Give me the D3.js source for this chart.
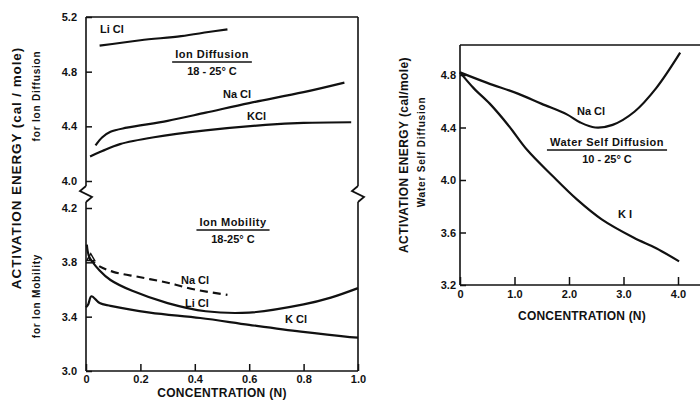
<!DOCTYPE html>
<html>
<head>
<meta charset="utf-8">
<script src="https://cdn.jsdelivr.net/npm/d3@7"></script>
<style>
  body { margin: 0; background: #fff; }
  text { font-family: "Liberation Sans", Arial, sans-serif; font-weight: bold; fill: #111; }
</style>
</head>
<body>
<div id="chart"></div>
<script>
// ion diffusion, 18-25 C  [concentration N, activation energy]
const diffLiCl = [[0.05, 4.99], [0.2, 5.03], [0.35, 5.06], [0.45, 5.09], [0.52, 5.11]];
const diffNaCl = [[0.035, 4.26], [0.06, 4.32], [0.09, 4.36], [0.15, 4.39], [0.3, 4.44], [0.44, 4.50], [0.6, 4.57], [0.8, 4.65], [0.95, 4.72]];
const diffKCl = [[0.015, 4.18], [0.06, 4.22], [0.125, 4.27], [0.25, 4.32], [0.44, 4.37], [0.66, 4.41], [0.8, 4.425], [0.975, 4.43]];

// ion mobility, 18-25 C
const mobNaCl = [[0.01, 3.83], [0.05, 3.77], [0.1, 3.73], [0.2, 3.69], [0.3, 3.65], [0.4, 3.60], [0.52, 3.56]];
const mobLiCl = [[0.003, 3.93], [0.012, 3.84], [0.05, 3.74], [0.09, 3.67], [0.17, 3.59], [0.3, 3.50], [0.44, 3.44], [0.6, 3.43], [0.8, 3.49], [0.9, 3.54], [1.0, 3.61]];
const mobKCl = [[0.0, 3.47], [0.008, 3.49], [0.02, 3.55], [0.05, 3.50], [0.09, 3.48], [0.235, 3.43], [0.42, 3.39], [0.6, 3.34], [0.79, 3.29], [0.97, 3.25], [1.0, 3.245]];
const mobMarker = [0.01, 3.83];

// water self diffusion, 10-25 C
const waterNaCl = [[0, 4.82], [0.5, 4.74], [1.05, 4.66], [1.5, 4.58], [1.96, 4.50], [2.2, 4.44], [2.48, 4.40], [2.8, 4.42], [3.2, 4.52], [3.6, 4.70], [4.04, 4.97]];
const waterKI = [[0, 4.82], [0.25, 4.70], [0.55, 4.58], [0.9, 4.41], [1.23, 4.23], [1.7, 4.03], [2.15, 3.85], [2.6, 3.70], [3.19, 3.56], [3.6, 3.48], [4.02, 3.38]];

const leftXTicks = [0, 0.2, 0.4, 0.6, 0.8, 1.0];
const upperYTicks = [4.0, 4.4, 4.8, 5.2];
const lowerYTicks = [3.0, 3.4, 3.8, 4.2];
const rightXTicks = [0, 1, 2, 3, 4];
const rightYTicks = [3.2, 3.6, 4.0, 4.4, 4.8];

(function() {
    const width = 700;
    const height = 403;

    const svg = d3.select("#chart")
        .append("svg")
        .attr("width", width)
        .attr("height", height);

    const ink = "#111";

    // left chart scales
    const xL = d3.scaleLinear().domain([0, 1]).range([86, 358]);
    const yUp = d3.scaleLinear().domain([4.0, 5.2]).range([181, 17]);
    const yLo = d3.scaleLinear().domain([3.0, 4.2]).range([371, 208]);

    // right chart scales
    const xR = d3.scaleLinear().domain([0, 4]).range([460, 678]);
    const yR = d3.scaleLinear().domain([3.2, 4.8]).range([285, 75]);

    const fmt1 = d => d === 0 ? "0" : d3.format(".1f")(d);

    function frameLine(x1, y1, x2, y2) {
        svg.append("line")
            .attr("x1", x1).attr("y1", y1).attr("x2", x2).attr("y2", y2)
            .attr("stroke", ink).attr("stroke-width", 1.6);
    }

    function zigzag(x, y) {
        svg.append("path")
            .attr("d", `M${x},${y - 8} L${x - 6},${y - 3} L${x + 6},${y + 3} L${x},${y + 8}`)
            .attr("fill", "none").attr("stroke", ink).attr("stroke-width", 1.8);
    }

    function styleAxis(g, size) {
        g.select(".domain").remove();
        g.selectAll(".tick line").attr("stroke", ink).attr("stroke-width", 1.5);
        g.selectAll(".tick text").style("font-size", size + "px").attr("fill", ink);
    }

    // ---- left frame with breaks ----
    const brk = 194;
    frameLine(xL(0), yUp(5.2), xL(1), yUp(5.2));
    frameLine(xL(0), yUp(5.2), xL(0), brk - 8);
    frameLine(xL(0), brk + 8, xL(0), yLo(3.0));
    frameLine(xL(1), yUp(5.2), xL(1), brk - 8);
    frameLine(xL(1), brk + 8, xL(1), yLo(3.0));
    frameLine(xL(0), yLo(3.0), xL(1), yLo(3.0));
    zigzag(xL(0), brk);
    zigzag(xL(1), brk);

    svg.append("g")
        .attr("transform", `translate(${xL(0)},0)`)
        .call(d3.axisLeft(yUp).tickValues(upperYTicks).tickFormat(d3.format(".1f")).tickSizeInner(-6).tickSizeOuter(0).tickPadding(9))
        .call(g => styleAxis(g, 11));

    svg.append("g")
        .attr("transform", `translate(${xL(0)},0)`)
        .call(d3.axisLeft(yLo).tickValues(lowerYTicks).tickFormat(d3.format(".1f")).tickSizeInner(-6).tickSizeOuter(0).tickPadding(9))
        .call(g => styleAxis(g, 11));

    svg.append("g")
        .attr("transform", `translate(0,${yLo(3.0)})`)
        .call(d3.axisBottom(xL).tickValues(leftXTicks).tickFormat(fmt1).tickSizeInner(-7).tickSizeOuter(0).tickPadding(4))
        .call(g => styleAxis(g, 11));

    // ---- right frame ----
    frameLine(xR(0), 45, 700, 45);
    frameLine(xR(0), 45, xR(0), yR(3.2));
    frameLine(xR(0), yR(3.2), 700, yR(3.2));

    svg.append("g")
        .attr("transform", `translate(${xR(0)},0)`)
        .call(d3.axisLeft(yR).tickValues(rightYTicks).tickFormat(d3.format(".1f")).tickSizeInner(-6).tickSizeOuter(0).tickPadding(4))
        .call(g => styleAxis(g, 11));

    svg.append("g")
        .attr("transform", `translate(0,${yR(3.2)})`)
        .call(d3.axisBottom(xR).tickValues(rightXTicks).tickFormat(fmt1).tickSizeInner(-8).tickSizeOuter(0).tickPadding(5))
        .call(g => styleAxis(g, 11));

    // ---- curves ----
    function drawCurve(data, xs, ys, dashed) {
        const line = d3.line()
            .x(d => xs(d[0]))
            .y(d => ys(d[1]))
            .curve(d3.curveCatmullRom.alpha(0.5));
        svg.append("path")
            .datum(data)
            .attr("d", line)
            .attr("fill", "none")
            .attr("stroke", ink)
            .attr("stroke-width", 2.2)
            .attr("stroke-dasharray", dashed ? "8,5" : null);
    }

    drawCurve(diffLiCl, xL, yUp);
    drawCurve(diffNaCl, xL, yUp);
    drawCurve(diffKCl, xL, yUp);
    drawCurve(mobNaCl, xL, yLo, true);
    drawCurve(mobLiCl, xL, yLo);
    drawCurve(mobKCl, xL, yLo);
    drawCurve(waterNaCl, xR, yR);
    drawCurve(waterKI, xR, yR);

    svg.append("path")
        .attr("d", d3.symbol().type(d3.symbolTriangle).size(28)())
        .attr("transform", `translate(${xL(mobMarker[0]) + 2},${yLo(mobMarker[1])})`)
        .attr("fill", "none").attr("stroke", ink).attr("stroke-width", 1.4);

    // ---- labels ----
    function label(x, y, txt, size, anchor) {
        return svg.append("text")
            .attr("x", x).attr("y", y)
            .attr("text-anchor", anchor || "start")
            .attr("dominant-baseline", "middle")
            .style("font-size", size + "px")
            .text(txt);
    }

    function heading(cx, y, txt, sub, size) {
        const t = label(cx, y, txt, size, "middle").style("letter-spacing", "0.5px");
        const w = t.node().getComputedTextLength();
        svg.append("line")
            .attr("x1", cx - w / 2 - 3).attr("x2", cx + w / 2 + 3)
            .attr("y1", y + 7).attr("y2", y + 7)
            .attr("stroke", ink).attr("stroke-width", 1.6);
        label(cx, y + 17, sub, size, "middle");
    }

    label(100, 30, "Li Cl", 11);
    heading(212, 55, "Ion Diffusion", "18 - 25° C", 11);
    label(223, 95, "Na Cl", 11);
    label(247, 117, "KCl", 11);

    heading(233, 223, "Ion Mobility", "18-25° C", 11);
    label(181, 281, "Na Cl", 11);
    label(185, 304, "Li Cl", 11);
    label(285, 320, "K Cl", 11);

    label(577, 112, "Na Cl", 11);
    heading(607, 143, "Water Self Diffusion", "10 - 25° C", 11);
    label(618, 215, "K I", 11);

    // axis titles
    function vtitle(x, y, txt, size, spacing) {
        svg.append("text")
            .attr("transform", `translate(${x},${y}) rotate(-90)`)
            .attr("text-anchor", "middle")
            .attr("dominant-baseline", "middle")
            .style("font-size", size + "px")
            .style("letter-spacing", spacing + "px")
            .text(txt);
    }

    vtitle(17, 168, "ACTIVATION ENERGY (cal / mole)", 13.5, 0.9);
    vtitle(37, 96, "for Ion Diffusion", 10, 0.8);
    vtitle(37, 296, "for Ion Mobility", 10, 0.8);
    vtitle(405, 155, "ACTIVATION ENERGY (cal/mole)", 12, 0.4);
    vtitle(422, 152, "Water Self Diffusion", 10, 0.8);

    label(222, 394, "CONCENTRATION (N)", 12, "middle").style("letter-spacing", "0.3px");
    label(582, 317, "CONCENTRATION (N)", 12, "middle").style("letter-spacing", "0.2px");
})();
</script>
</body>
</html>
